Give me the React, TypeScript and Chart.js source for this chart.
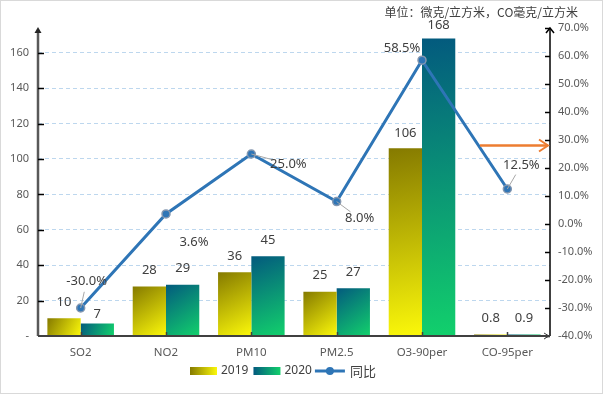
import React, { useEffect, useRef } from "react";
import { Chart, registerables } from "chart.js";

Chart.register(...registerables);

// ---- data ----
const categories = ["SO2", "NO2", "PM10", "PM2.5", "O3-90per", "CO-95per"];
const values2019 = [10, 28, 36, 25, 106, 0.8];
const values2020 = [7, 29, 45, 27, 168, 0.9];
const yoyPercent = [-30.0, 3.6, 25.0, 8.0, 58.5, 12.5];
const leftTicks = [0, 20, 40, 60, 80, 100, 120, 140, 160];
const rightTicks = [-40, -30, -20, -10, 0, 10, 20, 30, 40, 50, 60, 70];
const seriesNames = ["2019", "2020", "同比"];
const unitText = "单位：微克/立方米，CO毫克/立方米";
const arrowLevel = 28.2; // orange arrow level on right axis (%)

// ---- style constants ----
const yoyLabelOffsets: [number, number][] = [
  [6, -27], [28, 28], [37, 10], [23, 17], [-20, -12], [14, -24],
];
const yoyLeaders = [true, false, true, true, false, true];
const lift2019 = [16, 16, 16, 16, 15, 16];
const lift2020 = [9, 16, 16, 16, 13, 16];
const grad2019: [string, string] = ["#857a00", "#fbf80a"];
const grad2020: [string, string] = ["#035a7e", "#12d06c"];
const LINE_BLUE = "#2e75b6";
const FONT = '"Noto Sans", "Noto Sans CJK SC", sans-serif';
const CJK = '"Noto Sans CJK SC", "Noto Sans", sans-serif';

const decorPlugin = {
  id: "decor",
  beforeDatasetsDraw(chart: any) {
    const ctx = chart.ctx;
    [0, 1].forEach((di) => {
      const cols = di === 0 ? grad2019 : grad2020;
      const meta = chart.getDatasetMeta(di);
      meta.data.forEach((el: any) => {
        const { x, y, base, width } = el.getProps(["x", "y", "base", "width"], true);
        const l = x - width / 2;
        const r = x + width / 2;
        const g = ctx.createLinearGradient(l, y, r, base);
        g.addColorStop(0, cols[0]);
        g.addColorStop(1, cols[1]);
        el.options.backgroundColor = g;
      });
    });
  },
  afterDatasetsDraw(chart: any) {
    const ctx = chart.ctx;
    ctx.save();
    // bar value labels
    ctx.font = `13px ${FONT}`;
    ctx.fillStyle = "#404040";
    ctx.textAlign = "center";
    ctx.textBaseline = "middle";
    [0, 1].forEach((di) => {
      const vals = di === 0 ? values2019 : values2020;
      const lifts = di === 0 ? lift2019 : lift2020;
      const meta = chart.getDatasetMeta(di);
      meta.data.forEach((el: any, i: number) => {
        const { x, y } = el.getProps(["x", "y"], true);
        ctx.fillText(String(vals[i]), x, y - lifts[i]);
      });
    });
    // yoy labels
    const lm = chart.getDatasetMeta(2);
    lm.data.forEach((pt: any, i: number) => {
      const { x, y } = pt.getProps(["x", "y"], true);
      const [dx, dy] = yoyLabelOffsets[i];
      const text = yoyPercent[i].toFixed(1) + "%";
      if (yoyLeaders[i]) {
        ctx.strokeStyle = "#a6a6a6";
        ctx.lineWidth = 1;
        ctx.beginPath();
        ctx.moveTo(x, y);
        const tx = x + dx * 0.6;
        const ty = y + dy * 0.6;
        ctx.lineTo(tx, ty);
        ctx.stroke();
      }
      ctx.fillStyle = "#404040";
      ctx.fillText(text, x + dx, y + dy);
    });
    ctx.restore();
  },
  afterDraw(chart: any) {
    const ctx = chart.ctx;
    const { left, right, top, bottom } = chart.chartArea;
    const xs = chart.scales.x;
    const yl = chart.scales.y;
    const yr = chart.scales.y1;
    ctx.save();
    // outer border
    ctx.strokeStyle = "#d9d9d9";
    ctx.lineWidth = 1;
    ctx.strokeRect(0.5, 0.5, chart.width - 1, chart.height - 1);

    // left axis
    ctx.strokeStyle = "#595959";
    ctx.lineWidth = 2.5;
    ctx.beginPath();
    ctx.moveTo(left, bottom);
    ctx.lineTo(left, top + 3);
    ctx.stroke();
    ctx.fillStyle = "#262626";
    ctx.beginPath();
    ctx.moveTo(left, top - 1);
    ctx.lineTo(left - 3.5, top + 5);
    ctx.lineTo(left + 3.5, top + 5);
    ctx.closePath();
    ctx.fill();
    // left ticks
    ctx.strokeStyle = "#000";
    ctx.lineWidth = 1.5;
    leftTicks.forEach((v) => {
      if (v === 0) return;
      const py = Math.round(yl.getPixelForValue(v)) + 0.5;
      ctx.beginPath();
      ctx.moveTo(left, py);
      ctx.lineTo(left + 6, py);
      ctx.stroke();
    });

    // right axis
    ctx.strokeStyle = "#000";
    ctx.lineWidth = 1.5;
    ctx.beginPath();
    ctx.moveTo(right, bottom);
    ctx.lineTo(right, top);
    ctx.stroke();
    ctx.beginPath();
    ctx.moveTo(right - 4, top + 5);
    ctx.lineTo(right, top);
    ctx.lineTo(right + 4, top + 5);
    ctx.stroke();
    rightTicks.forEach((v) => {
      const py = Math.round(yr.getPixelForValue(v)) + 0.5;
      ctx.beginPath();
      ctx.moveTo(right - 5, py);
      ctx.lineTo(right, py);
      ctx.stroke();
    });

    // x axis
    ctx.strokeStyle = "#404040";
    ctx.lineWidth = 2;
    ctx.beginPath();
    ctx.moveTo(left, bottom);
    ctx.lineTo(right, bottom);
    ctx.stroke();
    ctx.lineWidth = 1;
    ctx.beginPath();
    ctx.moveTo(right - 6, bottom - 3);
    ctx.lineTo(right - 1, bottom);
    ctx.lineTo(right - 6, bottom + 3);
    ctx.stroke();
    ctx.lineWidth = 1.5;
    categories.forEach((_, i) => {
      const px = Math.round(xs.getPixelForValue(i)) + 0.5;
      ctx.beginPath();
      ctx.moveTo(px, bottom);
      ctx.lineTo(px, bottom - 4);
      ctx.stroke();
    });

    // orange arrow
    const ay = Math.round(yr.getPixelForValue(arrowLevel)) + 0.5;
    const ax0 = xs.getPixelForValue(categories.length - 1.32);
    const ax1 = right - 2;
    ctx.strokeStyle = "#ed7d31";
    ctx.lineWidth = 2.5;
    ctx.beginPath();
    ctx.moveTo(ax0, ay);
    ctx.lineTo(ax1, ay);
    ctx.stroke();
    ctx.lineWidth = 2;
    ctx.beginPath();
    ctx.moveTo(ax1 - 9, ay - 6);
    ctx.lineTo(ax1, ay);
    ctx.lineTo(ax1 - 9, ay + 6);
    ctx.stroke();

    // unit text
    ctx.font = `12px ${CJK}`;
    ctx.fillStyle = "#404040";
    ctx.textAlign = "right";
    ctx.textBaseline = "middle";
    ctx.fillText(unitText, chart.width - 25, 12);

    // legend
    const ly = 371;
    let lx = left + 152;
    ctx.font = `12px ${FONT}`;
    ctx.textAlign = "left";
    ctx.textBaseline = "middle";
    const drawBox = (cols: [string, string]) => {
      const g = ctx.createLinearGradient(lx, 0, lx + 27, 0);
      g.addColorStop(0, cols[0]);
      g.addColorStop(1, cols[1]);
      ctx.fillStyle = g;
      ctx.fillRect(lx, ly - 4, 27, 8);
      lx += 27 + 4;
    };
    const drawText = (t: string, gap: number) => {
      ctx.fillStyle = "#404040";
      ctx.fillText(t, lx, ly);
      lx += ctx.measureText(t).width + gap;
    };
    drawBox(grad2019);
    drawText(seriesNames[0], 5);
    drawBox(grad2020);
    drawText(seriesNames[1], 3);
    ctx.strokeStyle = LINE_BLUE;
    ctx.lineWidth = 3;
    ctx.beginPath();
    ctx.moveTo(lx, ly);
    ctx.lineTo(lx + 30, ly);
    ctx.stroke();
    ctx.fillStyle = LINE_BLUE;
    ctx.beginPath();
    ctx.arc(lx + 15, ly, 4, 0, Math.PI * 2);
    ctx.fill();
    lx += 30 + 5;
    ctx.font = `13px ${CJK}`;
    drawText(seriesNames[2], 0);
    ctx.restore();
  },
};

export default function App() {
  const ref = useRef<HTMLCanvasElement | null>(null);
  useEffect(() => {
    if (!ref.current) return;
    const chart = new Chart(ref.current, {
      type: "bar",
      data: {
        labels: categories,
        datasets: [
          {
            label: seriesNames[0],
            data: values2019,
            yAxisID: "y",
            backgroundColor: () => grad2019[1],
            categoryPercentage: 0.78,
            barPercentage: 1,
            order: 1,
          },
          {
            label: seriesNames[1],
            data: values2020,
            yAxisID: "y",
            backgroundColor: () => grad2020[1],
            categoryPercentage: 0.78,
            barPercentage: 1,
            order: 1,
          },
          {
            type: "line",
            label: seriesNames[2],
            data: yoyPercent,
            yAxisID: "y1",
            borderColor: LINE_BLUE,
            borderWidth: 3,
            pointRadius: 4,
            pointBackgroundColor: LINE_BLUE,
            pointBorderColor: "#8497b0",
            pointBorderWidth: 1.5,
            tension: 0,
            order: 0,
          } as any,
        ],
      },
      options: {
        animation: false,
        responsive: true,
        maintainAspectRatio: false,
        events: [],
        layout: { padding: { top: 28, left: 0, right: 0, bottom: 0 } },
        plugins: {
          legend: { display: false },
          tooltip: { enabled: false },
        },
        scales: {
          x: {
            grid: { display: false, drawTicks: false },
            border: { display: false },
            ticks: {
              color: "#595959",
              font: { size: 11.5, family: FONT },
              padding: 10,
              maxRotation: 0,
              autoSkip: false,
            },
            afterFit: (s: any) => {
              s.height = 58;
            },
          },
          y: {
            position: "left",
            min: 0,
            max: 174,
            afterBuildTicks: (s: any) => {
              s.ticks = leftTicks.map((v) => ({ value: v }));
            },
            ticks: {
              color: "#595959",
              font: { size: 11, family: FONT },
              padding: 9,
              callback: (v: any) => (Number(v) === 0 ? "-" : String(v)),
            },
            grid: {
              drawTicks: false,
              color: (c: any) => (c.tick && c.tick.value === 0 ? "rgba(0,0,0,0)" : "#bdd7ee"),
              lineWidth: 1,
            },
            border: { display: false, dash: [4, 3] },
            afterFit: (s: any) => {
              s.width = 38;
            },
          },
          y1: {
            position: "right",
            min: -40,
            max: 70,
            afterBuildTicks: (s: any) => {
              s.ticks = rightTicks.map((v) => ({ value: v }));
            },
            ticks: {
              color: "#595959",
              font: { size: 11, family: FONT },
              padding: 8,
              callback: (v: any) => Number(v).toFixed(1) + "%",
            },
            grid: { display: false, drawTicks: false },
            border: { display: false },
            afterFit: (s: any) => {
              s.width = 53;
            },
          },
        },
      } as any,
      plugins: [decorPlugin],
    });
    return () => chart.destroy();
  }, []);
  return (
    <div
      style={{
        position: "fixed",
        left: 0,
        top: 0,
        width: 603,
        height: 394,
        background: "#fff",
      }}
    >
      <canvas ref={ref} />
    </div>
  );
}
